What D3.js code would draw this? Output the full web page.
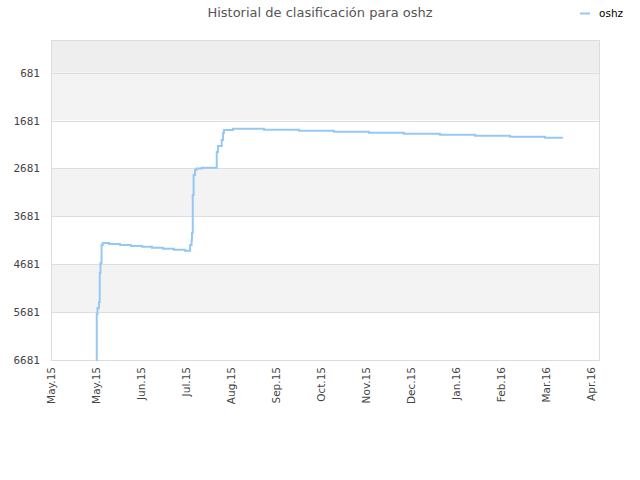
<!DOCTYPE html>
<html>
<head>
<meta charset="utf-8">
<script src="https://cdn.jsdelivr.net/npm/d3@7.9.0/dist/d3.min.js"></script>
<style>
  body { margin: 0; background: #fff; }
  svg { display: block; }
</style>
</head>
<body>
<svg id="chart" width="640" height="480"></svg>
<script>
const seriesName = 'oshz';
const dates = [
  '2015-05-31 00:00', '2015-05-31 12:00', '2015-06-01 00:00', '2015-06-02 00:00',
  '2015-06-02 12:00', '2015-06-03 00:00', '2015-06-03 17:00', '2015-06-04 12:00',
  '2015-06-08 17:00', '2015-06-16 00:00', '2015-06-23 07:00', '2015-06-30 17:00',
  '2015-07-07 07:00', '2015-07-14 17:00', '2015-07-22 00:00', '2015-07-29 07:00',
  '2015-08-01 17:00', '2015-08-02 17:00', '2015-08-03 00:00', '2015-08-03 12:00',
  '2015-08-04 02:00', '2015-08-05 00:00', '2015-08-06 00:00', '2015-08-09 12:00',
  '2015-08-19 12:00', '2015-08-20 07:00', '2015-08-22 19:00', '2015-08-23 17:00',
  '2015-08-24 07:00', '2015-08-30 07:00', '2015-09-20 00:00', '2015-10-13 07:00',
  '2015-11-05 17:00', '2015-11-29 00:00', '2015-12-22 07:00', '2016-01-15 07:00',
  '2016-02-07 17:00', '2016-03-02 00:00', '2016-03-25 07:00', '2016-04-06 07:00'
];
const ranks = [
  6681, 5720, 5595, 5470,
  4865, 4656, 4280, 4238,
  4259, 4280, 4301, 4315,
  4336, 4357, 4378, 4399,
  4280, 4176, 4029, 3236,
  2819, 2714, 2683, 2666,
  2338, 2213, 2088, 1942,
  1879, 1852, 1873, 1894,
  1914, 1935, 1956, 1977,
  1998, 2019, 2040, 2040
];
const yTicks = [681, 1681, 2681, 3681, 4681, 5681, 6681];
const xStart = '2015-05-01';
const xEnd = '2016-05-01';
const tickStepDays = 30;
const tickCount = 13;

const parse = d3.timeParse('%Y-%m-%d %H:%M');
const parseDay = d3.timeParse('%Y-%m-%d');
const data = dates.map((d, i) => ({ date: parse(d), rank: ranks[i] }));

const svg = d3.select('#chart');
const plotLeft = 51, plotRight = 600, plotTop = 40, plotBottom = 360;

const x = d3.scaleTime()
  .domain([parseDay(xStart), parseDay(xEnd)])
  .range([plotLeft, plotRight]);
const y = d3.scaleLinear()
  .domain([0, 6681])
  .range([plotTop, plotBottom]);

// background bands
const bandEdges = [0].concat(yTicks);
for (let i = 0; i < bandEdges.length - 1; i++) {
  let fill = i === 0 ? '#eeeeee' : (i % 2 === 1 ? '#f3f3f3' : '#ffffff');
  svg.append('rect')
    .attr('x', plotLeft)
    .attr('y', y(bandEdges[i]))
    .attr('width', plotRight - plotLeft)
    .attr('height', y(bandEdges[i + 1]) - y(bandEdges[i]))
    .attr('fill', fill);
}

// grid lines
svg.append('g')
  .selectAll('line')
  .data(yTicks)
  .join('line')
  .attr('x1', plotLeft).attr('x2', plotRight)
  .attr('y1', d => Math.round(y(d)) + 0.5)
  .attr('y2', d => Math.round(y(d)) + 0.5)
  .attr('stroke', '#dddddd');

svg.append('rect')
  .attr('x', plotLeft + 0.5).attr('y', plotTop + 0.5)
  .attr('width', plotRight - plotLeft - 1).attr('height', plotBottom - plotTop)
  .attr('fill', 'none')
  .attr('stroke', '#dddddd');

// y axis labels
svg.append('g')
  .selectAll('text')
  .data(yTicks)
  .join('text')
  .attr('x', 40)
  .attr('y', d => y(d) + 4)
  .attr('text-anchor', 'end')
  .attr('font-family', 'DejaVu Sans Mono')
  .attr('font-size', 11)
  .attr('fill', '#444')
  .text(d => d);

// x axis: one tick every 30 days
const xTicks = d3.range(tickCount).map(k => d3.timeDay.offset(parseDay(xStart), k * tickStepDays));
const fmt = d3.timeFormat('%b.%y');
svg.append('g')
  .selectAll('text')
  .data(xTicks)
  .join('text')
  .attr('transform', d => `translate(${x(d) + 4},367) rotate(-90)`)
  .attr('text-anchor', 'end')
  .attr('font-family', 'DejaVu Sans')
  .attr('font-size', 10.5)
  .attr('fill', '#444')
  .text(d => fmt(d));

// line
const line = d3.line()
  .x(d => x(d.date))
  .y(d => y(d.rank))
  .curve(d3.curveStepAfter);

svg.append('path')
  .datum(data)
  .attr('d', line)
  .attr('fill', 'none')
  .attr('stroke', '#96c8f5')
  .attr('stroke-width', 2);

// title
svg.append('text')
  .attr('x', 320).attr('y', 17)
  .attr('text-anchor', 'middle')
  .attr('font-family', 'DejaVu Sans')
  .attr('font-size', 13)
  .attr('fill', '#555')
  .text('Historial de clasificación para ' + seriesName);

// legend
svg.append('line')
  .attr('x1', 580).attr('x2', 590)
  .attr('y1', 13.5).attr('y2', 13.5)
  .attr('stroke', '#96c8f5')
  .attr('stroke-width', 2);
svg.append('text')
  .attr('x', 599).attr('y', 17)
  .attr('font-family', 'DejaVu Sans')
  .attr('font-size', 10.5)
  .attr('fill', '#000')
  .text(seriesName);
</script>
</body>
</html>
